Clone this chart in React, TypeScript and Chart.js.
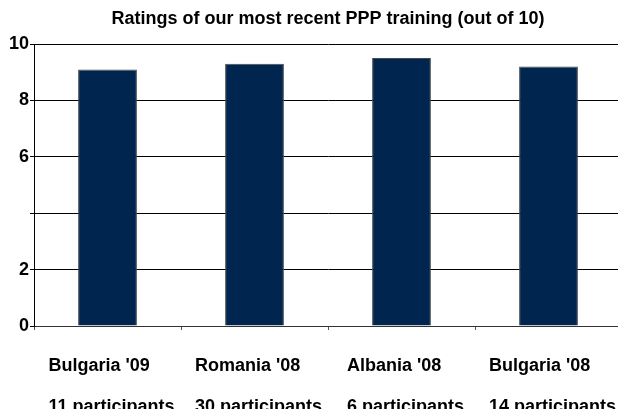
import React, { useEffect, useRef } from "react";
import { Chart, registerables } from "chart.js";

Chart.register(...registerables);

const TITLE = "Ratings of our most recent PPP training (out of 10)";
const countries = ["Bulgaria '09", "Romania '08", "Albania '08", "Bulgaria '08"];
const participants = ["11 participants", "30 participants", "6 participants", "14 participants"];
const ratings = [9.1, 9.3, 9.5, 9.2];
const yTickValues = [0, 2, 4, 6, 8, 10];
const yTickLabels = ["0", "2", "", "6", "8", "10"];

const FONT = '"Liberation Sans", Arial, sans-serif';

const textPlugin = {
  id: "customText",
  afterDraw(chart: any) {
    const { ctx, chartArea } = chart;
    const xScale = chart.scales.x;
    ctx.save();
    ctx.fillStyle = "#000";
    // title centred over the plot area
    ctx.font = `bold 18px ${FONT}`;
    ctx.textAlign = "center";
    ctx.textBaseline = "middle";
    ctx.fillText(TITLE, (chartArea.left + chartArea.right) / 2, 19);
    // two-line category labels, lines left-aligned, block centred
    ctx.font = `bold 18px ${FONT}`;
    ctx.textAlign = "left";
    ctx.textBaseline = "alphabetic";
    countries.forEach((c, i) => {
      const x = xScale.getPixelForValue(i);
      const w = Math.max(ctx.measureText(c).width, ctx.measureText(participants[i]).width);
      const left = x + 4 - w / 2;
      ctx.fillText(c, left, chartArea.bottom + 45);
      ctx.fillText(participants[i], left, chartArea.bottom + 86);
    });
    ctx.restore();
  },
};

export default function App() {
  const ref = useRef<HTMLCanvasElement>(null);
  useEffect(() => {
    if (!ref.current) return;
    const chart = new Chart(ref.current, {
      type: "bar",
      data: {
        labels: countries.map((c, i) => [c, participants[i]]),
        datasets: [
          {
            data: ratings,
            backgroundColor: "#00264F",
            borderColor: "#4a4a4a",
            borderWidth: 1,
            barPercentage: 0.8,
            categoryPercentage: 0.5,
          },
        ],
      },
      options: {
        responsive: false,
        animation: false,
        devicePixelRatio: 1,
        layout: { padding: { top: 44, bottom: 79, left: 0, right: 0 } },
        plugins: {
          legend: { display: false },
          title: { display: false },
          tooltip: { enabled: false },
        },
        scales: {
          x: {
            offset: true,
            grid: { display: true, drawOnChartArea: false, tickLength: 4, color: "#555" },
            border: { display: true, color: "#333", width: 1 },
            ticks: { display: false },
          },
          y: {
            min: 0,
            max: 10,
            afterBuildTicks: (scale: any) => {
              scale.ticks = yTickValues.map((v) => ({ value: v }));
            },
            afterFit: (scale: any) => {
              scale.width = 34;
            },
            ticks: {
              padding: 1,
              color: "#000",
              font: { family: FONT, size: 18, weight: "bold" },
              callback: (v: any) => yTickLabels[yTickValues.indexOf(Number(v))] ?? "",
            },
            grid: { color: "#000", tickLength: 4 },
            border: { display: true, color: "#000", width: 1 },
          },
        },
      },
      plugins: [textPlugin],
    });
    return () => chart.destroy();
  }, []);
  return (
    <div style={{ position: "fixed", left: 0, top: 0, width: 618, height: 409, overflow: "hidden", background: "#fff" }}>
      <canvas ref={ref} width={622} height={409} style={{ display: "block", width: 622, height: 409 }} />
    </div>
  );
}
